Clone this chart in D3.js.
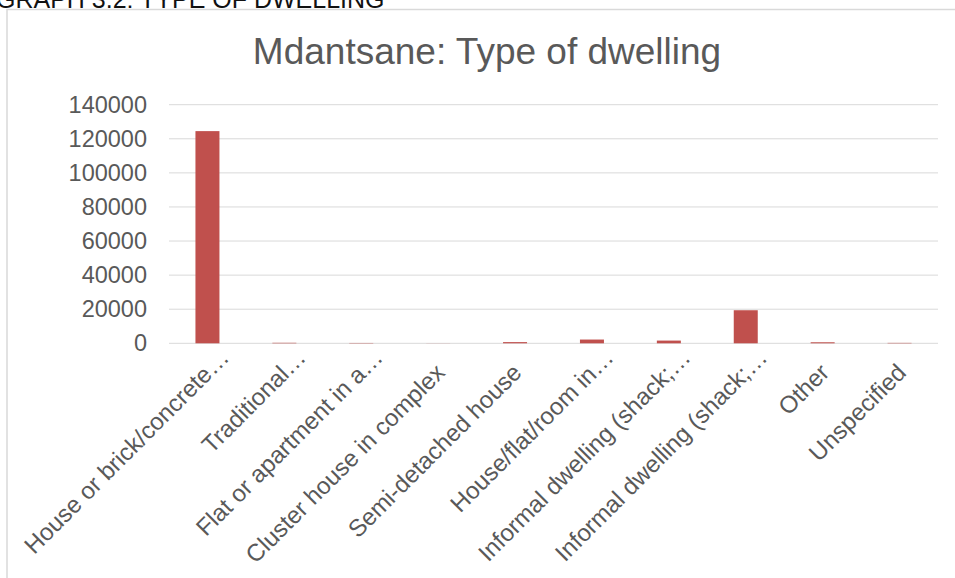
<!DOCTYPE html>
<html><head><meta charset="utf-8">
<script src="https://cdn.jsdelivr.net/npm/d3@7"></script>
<style>body{margin:0;background:#fff;} svg{display:block;font-family:"Liberation Sans",Arial,sans-serif;}</style>
</head><body>
<svg id="c" width="955" height="578"></svg>
<script>
const categories = ["House or brick/concrete…","Traditional…","Flat or apartment in a…","Cluster house in complex","Semi-detached house","House/flat/room in…","Informal dwelling (shack;…","Informal dwelling (shack;…","Other","Unspecified"];
const values = [124500, 300, 200, 50, 700, 2200, 1600, 19400, 600, 250];
const yTicks = [0,20000,40000,60000,80000,100000,120000,140000];
const pageHeading = "GRAPH 3.2: TYPE OF DWELLING";
const chartTitle = "Mdantsane: Type of dwelling";

const svg = d3.select("#c");
svg.append("text").attr("x",-4).attr("y",7.5).attr("font-size",25).attr("fill","#111").text(pageHeading);
svg.append("rect").attr("x",7).attr("y",9.5).attr("width",960).attr("height",600)
  .attr("fill","#fff").attr("stroke","#d9d9d9").attr("stroke-width",1.5);
svg.append("text").attr("x",487).attr("y",64).attr("text-anchor","middle").attr("font-size",37).attr("fill","#595959").text(chartTitle);

const xb = d3.scaleBand().domain(d3.range(categories.length)).range([169,938]);
const y = d3.scaleLinear().domain([0,140000]).range([343.3,104.7]);

const g = svg.append("g");
g.selectAll("line.grid").data(yTicks).join("line").attr("class","grid")
  .attr("x1",169).attr("x2",938).attr("y1",d=>y(d)).attr("y2",d=>y(d))
  .attr("stroke","#d9d9d9").attr("stroke-width",1);
g.selectAll("text.yt").data(yTicks).join("text").attr("class","yt")
  .attr("x",147).attr("y",d=>y(d)+8).attr("text-anchor","end").attr("font-size",23.5).attr("fill","#595959").text(d=>d);

g.selectAll("rect.bar").data(values).join("rect").attr("class","bar")
  .attr("x",(d,i)=>xb(i)+xb.bandwidth()/2-12).attr("width",24)
  .attr("y",d=>y(d)).attr("height",d=>y(0)-y(d)).attr("fill","#c0504d");

g.selectAll("text.xl").data(categories).join("text").attr("class","xl")
  .attr("transform",(d,i)=>{const cx=xb(i)+xb.bandwidth()/2; const tr=d.endsWith("…"); const ax=cx+8+(tr?15:0), ay=374-(tr?15:0); return `translate(${ax},${ay}) rotate(-45)`;})
  .attr("text-anchor","end").attr("font-size",24).attr("fill","#595959").text(d=>d);
</script>
</body></html>
